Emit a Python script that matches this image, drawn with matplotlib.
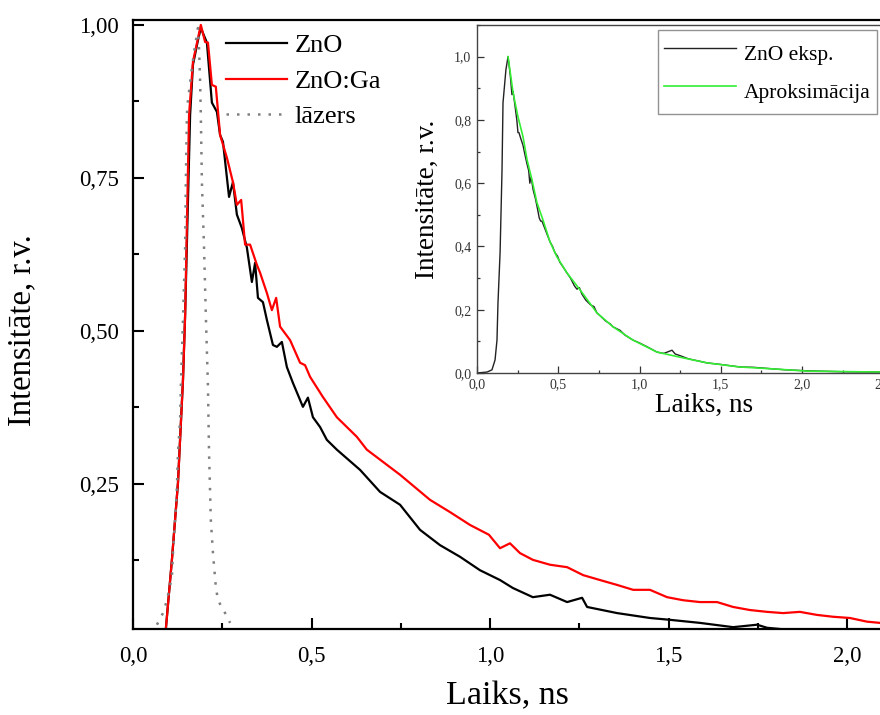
import numpy as np
import matplotlib
matplotlib.use("Agg")
import matplotlib.pyplot as plt
from matplotlib.ticker import MultipleLocator, FuncFormatter

plt.rcParams['font.family'] = ['Liberation Serif', 'DejaVu Serif']

# ZnO (black), main plot
zno_t = [0.092, 0.109, 0.126, 0.140, 0.146, 0.160, 0.168, 0.182, 0.190, 0.207, 0.221, 0.235,
         0.244, 0.252, 0.269, 0.280, 0.291, 0.305, 0.319, 0.333, 0.342, 0.350, 0.364, 0.375,
         0.392, 0.403, 0.417, 0.431, 0.448, 0.476, 0.490, 0.504, 0.524, 0.543, 0.571, 0.636,
         0.692, 0.748, 0.804, 0.860, 0.916, 0.972, 1.028, 1.064, 1.120, 1.168, 1.216, 1.258,
         1.272, 1.356, 1.448, 1.504, 1.588, 1.681, 1.748, 1.776, 1.849, 1.924, 2.008, 2.092]
zno_i = [0.013, 0.126, 0.252, 0.420, 0.526, 0.853, 0.935, 0.975, 0.995, 0.971, 0.873, 0.858,
         0.820, 0.809, 0.719, 0.743, 0.690, 0.668, 0.636, 0.580, 0.611, 0.554, 0.547, 0.518,
         0.477, 0.474, 0.482, 0.441, 0.415, 0.376, 0.391, 0.359, 0.343, 0.322, 0.306, 0.273,
         0.237, 0.216, 0.175, 0.150, 0.131, 0.109, 0.093, 0.080, 0.065, 0.069, 0.057, 0.064,
         0.049, 0.039, 0.031, 0.028, 0.023, 0.016, 0.020, 0.015, 0.011, 0.008, 0.010, 0.008]

# ZnO:Ga (red)
znoga_t = [0.092, 0.109, 0.126, 0.140, 0.146, 0.157, 0.168, 0.190, 0.202, 0.210, 0.221, 0.232,
           0.244, 0.263, 0.280, 0.291, 0.303, 0.314, 0.328, 0.347, 0.356, 0.375, 0.389, 0.401,
           0.412, 0.440, 0.468, 0.482, 0.496, 0.532, 0.571, 0.599, 0.627, 0.655, 0.748, 0.832,
           0.888, 0.944, 0.997, 1.028, 1.056, 1.084, 1.120, 1.168, 1.216, 1.261, 1.308, 1.356,
           1.401, 1.448, 1.496, 1.541, 1.588, 1.636, 1.681, 1.728, 1.776, 1.821, 1.868, 1.916,
           1.961, 2.008, 2.056, 2.092]
znoga_i = [0.013, 0.126, 0.252, 0.420, 0.526, 0.853, 0.940, 1.000, 0.972, 0.971, 0.902, 0.899,
           0.820, 0.783, 0.743, 0.706, 0.714, 0.641, 0.641, 0.608, 0.595, 0.562, 0.534, 0.554,
           0.507, 0.485, 0.448, 0.444, 0.425, 0.392, 0.359, 0.343, 0.327, 0.306, 0.265, 0.224,
           0.204, 0.183, 0.167, 0.145, 0.153, 0.137, 0.126, 0.118, 0.114, 0.101, 0.093, 0.085,
           0.077, 0.077, 0.065, 0.060, 0.057, 0.057, 0.049, 0.044, 0.041, 0.039, 0.041, 0.036,
           0.033, 0.031, 0.025, 0.023]

# laser pulse (grey dotted)
laser_t = [0.067, 0.084, 0.095, 0.109, 0.112, 0.118, 0.123, 0.126, 0.132, 0.134, 0.137, 0.140,
           0.146, 0.148, 0.151, 0.154, 0.165, 0.174, 0.182, 0.185, 0.188, 0.190, 0.193, 0.199,
           0.204, 0.210, 0.213, 0.218, 0.224, 0.232, 0.238, 0.258, 0.272]
laser_i = [0.020, 0.039, 0.060, 0.098, 0.137, 0.191, 0.245, 0.301, 0.355, 0.408, 0.464, 0.518,
           0.636, 0.743, 0.853, 0.877, 0.930, 0.967, 0.995, 0.962, 0.907, 0.853, 0.743, 0.636,
           0.526, 0.408, 0.301, 0.191, 0.137, 0.082, 0.060, 0.039, 0.023]

# inset: experiment
exp_t = [0.0, 0.062, 0.092, 0.111, 0.123, 0.129, 0.142, 0.154, 0.160, 0.178, 0.191, 0.205,
         0.215, 0.222, 0.235, 0.245, 0.252, 0.258, 0.270, 0.283, 0.295, 0.308, 0.318, 0.325,
         0.333, 0.345, 0.360, 0.372, 0.383, 0.392, 0.400, 0.415, 0.430, 0.449, 0.465, 0.480,
         0.495, 0.510, 0.530, 0.554, 0.575, 0.600, 0.615, 0.630, 0.645, 0.670, 0.700, 0.720,
         0.738, 0.760, 0.790, 0.820, 0.837, 0.860, 0.880, 0.910, 0.960, 1.000, 1.050, 1.108,
         1.150, 1.200, 1.220, 1.249, 1.300, 1.415, 1.500, 1.618, 1.700, 1.750, 1.822, 1.900,
         2.030, 2.100, 2.250, 2.480, 2.800]
exp_i = [0.0, 0.003, 0.010, 0.041, 0.104, 0.220, 0.380, 0.642, 0.854, 0.959, 1.000, 0.940,
         0.880, 0.890, 0.840, 0.800, 0.760, 0.760, 0.740, 0.720, 0.690, 0.660, 0.640, 0.600,
         0.620, 0.580, 0.550, 0.520, 0.490, 0.480, 0.480, 0.460, 0.440, 0.415, 0.400, 0.380,
         0.370, 0.350, 0.335, 0.316, 0.300, 0.275, 0.265, 0.270, 0.250, 0.230, 0.215, 0.210,
         0.190, 0.180, 0.165, 0.155, 0.146, 0.140, 0.135, 0.120, 0.104, 0.095, 0.082, 0.066,
         0.062, 0.072, 0.060, 0.055, 0.045, 0.032, 0.027, 0.019, 0.018, 0.016, 0.013, 0.010,
         0.007, 0.006, 0.004, 0.003, 0.002]
# inset: fit
fit_t = [0.191, 0.222, 0.252, 0.283, 0.308, 0.338, 0.369, 0.406, 0.449, 0.492, 0.554, 0.634,
         0.738, 0.837, 0.960, 1.108, 1.249, 1.415, 1.618, 1.822, 2.030, 2.480, 2.800]
fit_i = [1.000, 0.886, 0.810, 0.747, 0.674, 0.611, 0.538, 0.484, 0.415, 0.367, 0.316, 0.263,
         0.190, 0.146, 0.104, 0.066, 0.050, 0.032, 0.019, 0.013, 0.006, 0.003, 0.002]


def comma(nd):
    return FuncFormatter(lambda v, p: ('{:.%df}' % nd).format(v).replace('.', ','))


fig = plt.figure(figsize=(8.8, 7.15), dpi=100)

# main axes (runs past right edge on purpose, like the cropped original)
ax = fig.add_axes([133 / 880, 86 / 715, 2.2 * 357 / 880, 609 / 715])
ax.plot(zno_t, zno_i, color='black', lw=1.6, label='ZnO')
ax.plot(znoga_t, znoga_i, color='#ff0000', lw=1.6, label='ZnO:Ga')
ax.plot(laser_t, laser_i, color='#808080', lw=1.8, ls=(0, (1, 3.2)), label='lāzers')
ax.set_xlim(0, 2.2)
ax.set_ylim(0.013, 1.008)
ax.xaxis.set_major_locator(MultipleLocator(0.5))
ax.xaxis.set_minor_locator(MultipleLocator(0.25))
ax.yaxis.set_major_locator(MultipleLocator(0.25))
ax.yaxis.set_minor_locator(MultipleLocator(0.125))
ax.xaxis.set_major_formatter(comma(1))
ax.yaxis.set_major_formatter(comma(2))
ax.tick_params(which='both', direction='in', width=1.5, labelsize=16.5)
ax.tick_params(axis='x', which='major', length=8, pad=12)
ax.tick_params(axis='y', which='major', length=8, pad=10)
ax.tick_params(which='minor', length=4)
for s in ax.spines.values():
    s.set_linewidth(1.6)
ax.set_xlabel('Laiks, ns', fontsize=24.5)
ax.set_ylabel('Intensitāte, r.v.', fontsize=23.5)
ax.xaxis.set_label_coords((507 - 133) / 785, -0.085)
ax.yaxis.set_label_coords(-0.122, 0.49)
ax.legend(loc='upper left', bbox_to_anchor=(226 / 880, 1 - 34 / 715),
          bbox_transform=fig.transFigure, frameon=False, fontsize=19,
          handlelength=2.3, handletextpad=0.3, labelspacing=0.45, borderpad=0,
          borderaxespad=0)

# inset
axi = fig.add_axes([477 / 880, 342 / 715, 2.8 * 162.5 / 880, 348 / 715])
axi.plot(exp_t, exp_i, color='#222222', lw=1.0, label='ZnO eksp.')
axi.plot(fit_t, fit_i, color='#33ee33', lw=1.2, label='Aproksimācija')
axi.set_xlim(0, 2.8)
axi.set_ylim(0, 1.1)
axi.xaxis.set_major_locator(MultipleLocator(0.5))
axi.xaxis.set_minor_locator(MultipleLocator(0.25))
axi.yaxis.set_major_locator(MultipleLocator(0.2))
axi.yaxis.set_minor_locator(MultipleLocator(0.1))
axi.xaxis.set_major_formatter(comma(1))
axi.yaxis.set_major_formatter(comma(1))
axi.tick_params(which='both', direction='in', width=0.9, labelsize=10,
                colors='#333333', labelcolor='#333333')
axi.tick_params(which='major', length=5, pad=4)
axi.tick_params(which='minor', length=2.5)
for s in axi.spines.values():
    s.set_linewidth(1.0)
    s.set_color('#444444')
axi.set_xlabel('Laiks, ns', fontsize=19.5, labelpad=1)
axi.set_ylabel('Intensitāte, r.v.', fontsize=19.5, labelpad=10)
leg = axi.legend(loc='upper right', bbox_to_anchor=(877 / 880, 1 - 30 / 715),
                 bbox_transform=fig.transFigure, fancybox=False, fontsize=15.5,
                 handlelength=3.35, handletextpad=0.35, borderaxespad=0,
                 borderpad=0.3, handleheight=2.05, labelspacing=0.17,
                 edgecolor='#777777')
leg.get_frame().set_linewidth(1.0)

fig.savefig('out.png', dpi=100)
